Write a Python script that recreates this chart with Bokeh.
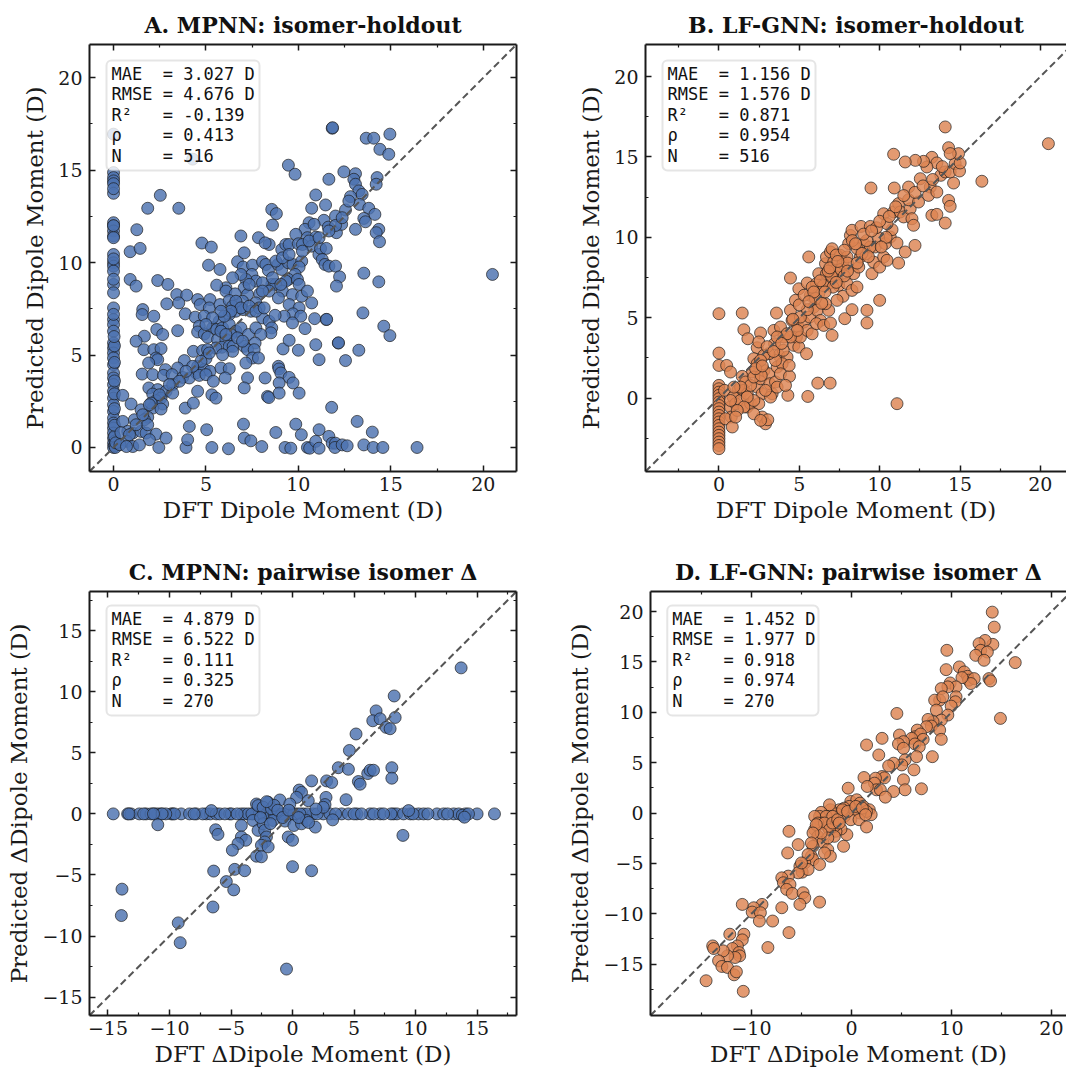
from bokeh.plotting import figure
from bokeh.models import (FixedTicker, LinearAxis, Range1d, BoxAnnotation, Label,
                          CustomJSTickFormatter, CustomLabelingPolicy)
from bokeh.layouts import column, row
from bokeh.embed import file_html
from bokeh.resources import INLINE

# ---------------- data ----------------
titles = ["A. MPNN: isomer-holdout", "B. LF-GNN: isomer-holdout",
          "C. MPNN: pairwise isomer \u0394", "D. LF-GNN: pairwise isomer \u0394"]

stats_A = ["MAE  = 3.027 D", "RMSE = 4.676 D", "R\u00b2   = -0.139", "\u03c1    = 0.413", "N    = 516"]
stats_B = ["MAE  = 1.156 D", "RMSE = 1.576 D", "R\u00b2   = 0.871", "\u03c1    = 0.954", "N    = 516"]
stats_C = ["MAE  = 4.879 D", "RMSE = 6.522 D", "R\u00b2   = 0.111", "\u03c1    = 0.325", "N    = 270"]
stats_D = ["MAE  = 1.452 D", "RMSE = 1.977 D", "R\u00b2   = 0.918", "\u03c1    = 0.974", "N    = 270"]

pts_A = [
    (0, 16.95), (0, 14.87), (0, 14.6), (0, 14.42), (0, 14.27), (0, 13.75), (0, 12.16), (0, 11.98),
    (0, 11.71), (0, 11.44), (0, 11.35), (0, 10.44), (0, 9.99), (0, 9.81), (0, 9.54), (0, 8.82),
    (0, 8.37), (0, 7.55), (0, 6.92), (0, 6.65), (0, 6.29), (0, 5.65), (0, 5.38), (0, 5.11), (0, 4.84),
    (0, 4.48), (0, 4.03), (0, 3.76), (0, 3.4), (0, 3.04), (0, 2.67), (0, 2.31), (0, 1.95), (0, 1.59),
    (0, 1.32), (0, 1.05), (0, 0.78), (0, 0.51), (0, 0.23), (0, 0.0), (0.05, 0.1), (0.08, 0.35),
    (0.05, 0.6), (0.1, 0.0), (0.12, 0.25), (0.05, 1.2), (0.05, 2.1), (0.05, 2.9), (0.05, 3.6),
    (0.05, 4.6), (0.05, 5.5), (0.03, 6.0), (0, 7.2), (0, 9.1), (0, 10.2), (0, 12.0), (0, 14.0),
    (4.28, 15.6),
    (11.83, 17.27), (11.85, 17.3), (13.67, 16.73), (14.08, 16.73), (14.95, 16.95), (14.41, 16.13),
    (14.89, 15.86), (9.46, 15.27), (9.82, 14.78), (11.65, 14.51), (12.46, 14.91), (13.09, 14.81),
    (13.0, 14.51), (13.09, 14.24), (14.26, 14.6), (14.21, 14.24), (13.27, 13.88), (13.45, 13.69),
    (12.82, 13.57), (10.94, 13.66), (2.53, 13.64), (1.85, 12.94), (3.53, 12.94), (8.56, 12.88),
    (8.81, 12.65), (8.6, 12.03), (10.72, 12.94), (11.47, 13.12), (12.55, 12.85), (13.31, 13.15),
    (13.81, 12.94), (14.14, 12.61), (13.54, 12.39), (13.63, 12.21), (12.01, 12.52), (11.38, 12.29),
    (11.62, 11.92), (12.06, 11.62), (12.34, 12.07), (12.01, 12.01), (13.09, 11.8), (14.35, 11.8),
    (14.21, 11.62), (14.39, 11.13), (10.58, 12.16), (10.36, 11.8), (10.85, 12.07), (9.86, 11.53),
    (10.49, 11.35), (10.94, 11.38), (1.26, 11.78), (6.89, 11.44), (7.84, 11.35), (8.42, 10.98),
    (8.2, 11.07), (9.1, 10.71), (9.32, 10.98), (9.5, 10.98), (10.0, 11.02), (10.22, 10.98),
    (10.72, 10.89), (11.11, 10.44), (11.2, 10.77), (11.51, 10.77), (11.29, 10.17), (11.44, 9.9),
    (11.65, 9.81), (12.01, 9.81), (12.23, 9.23), (12.06, 8.73), (13.54, 9.43), (14.35, 8.96),
    (20.5, 9.36), (0.9, 10.59), (1.44, 10.77), (4.78, 11.06), (5.29, 10.84), (5.14, 9.86),
    (5.76, 9.63), (6.71, 10.05), (7.07, 10.53), (7.01, 9.76), (7.52, 9.86), (8.06, 10.05),
    (8.24, 9.9), (7.48, 9.36), (7.7, 9.0), (8.38, 9.58), (8.9, 9.9), (9.1, 9.63), (9.46, 9.99),
    (9.71, 9.9), (10.18, 10.08), (10.04, 9.76), (9.82, 9.36), (9.46, 9.09), (9.32, 9.0),
    (9.95, 9.09), (10.04, 8.82), (8.56, 8.82), (8.78, 8.82), (8.06, 8.91), (7.16, 9.09),
    (7.07, 8.64), (6.08, 8.64), (5.58, 8.78), (6.08, 8.46), (0.9, 9.09), (1.22, 8.73), (2.39, 9.03),
    (2.94, 8.82), (6.58, 8.31), (7.25, 8.27), (7.91, 8.31), (7.7, 7.82), (8.42, 8.46), (9.14, 8.46),
    (8.92, 8.09), (9.68, 8.27), (10.18, 8.18), (10.49, 8.46), (10.72, 7.82), (9.5, 7.73),
    (10.04, 7.55), (9.71, 7.23), (10.13, 7.1), (9.23, 7.1), (9.68, 6.74), (10.36, 6.43),
    (10.88, 6.97), (11.51, 6.92), (11.53, 6.93), (13.49, 7.28), (14.62, 6.56), (14.95, 6.05),
    (12.16, 5.65), (12.17, 5.66), (10.94, 5.56), (10.0, 5.26), (9.17, 5.33), (9.5, 5.8),
    (11.12, 4.75), (12.55, 4.7), (13.27, 5.26),
    (3.42, 8.27), (3.96, 8.24), (2.88, 7.77), (3.53, 7.82), (4.55, 8.0), (5.22, 8.0), (4.69, 7.73),
    (5.18, 7.55), (5.76, 7.73), (6.26, 7.95), (6.44, 7.64), (6.98, 7.91), (6.62, 7.37), (6.26, 7.19),
    (7.01, 7.46), (7.43, 7.37), (7.88, 7.55), (8.06, 7.01), (8.42, 6.83), (8.74, 7.15), (8.56, 6.47),
    (8.51, 6.2), (1.58, 7.46), (1.55, 7.19), (2.18, 7.1), (3.88, 7.23), (4.42, 7.05), (4.91, 7.1),
    (5.72, 6.83), (4.64, 6.56), (5.36, 6.47), (5.58, 6.38), (5.9, 6.47), (6.26, 6.65), (6.62, 6.29),
    (6.35, 6.11), (6.89, 6.47), (7.3, 6.11), (7.7, 6.47), (7.97, 6.11), (7.66, 5.65), (2.34, 6.38),
    (2.66, 6.11), (1.67, 6.02), (1.22, 5.75), (3.47, 6.32), (4.55, 6.25), (4.91, 6.14), (5.09, 5.96),
    (5.63, 5.84), (6.08, 5.84), (5.86, 5.42), (6.26, 5.47), (6.47, 5.47), (5.54, 5.38), (7.07, 5.47),
    (7.25, 5.29), (7.61, 5.29), (7.52, 4.84), (7.84, 4.84), (1.64, 5.29), (2.18, 5.29), (2.57, 5.35),
    (2.3, 4.84), (2.39, 4.75), (1.9, 4.57), (4.32, 5.2), (4.82, 5.24), (5.09, 5.29), (3.83, 4.7),
    (5.0, 4.81), (4.55, 4.39), (4.46, 4.03), (4.91, 4.21), (5.22, 4.12), (5.81, 4.3), (6.26, 4.26),
    (7.16, 4.57), (2.81, 4.21), (3.47, 4.3), (1.55, 3.97), (2.12, 3.94), (2.7, 3.9), (3.17, 3.94),
    (3.74, 3.79), (4.1, 3.76), (4.64, 3.9), (5.0, 3.94), (5.4, 3.58), (6.04, 3.76), (7.25, 3.76),
    (8.2, 3.76), (8.92, 4.39), (8.95, 4.25), (9.05, 4.03), (9.5, 3.79), (8.96, 3.49), (9.71, 3.49),
    (10.04, 2.94), (8.33, 2.76), (8.4, 2.7), (8.96, 2.94), (7.07, 3.22), (1.91, 3.22), (2.39, 3.13),
    (2.12, 2.89), (2.84, 3.04), (3.2, 3.4), (3.2, 2.94), (2.57, 2.67), (2.3, 2.53), (2.66, 2.35),
    (2.12, 2.13), (2.57, 2.08), (2.03, 2.4), (4.55, 3.04), (5.32, 2.85), (5.54, 2.67), (0.5, 2.82),
    (0.95, 2.35), (1.49, 2.04), (1.85, 1.64), (1.67, 1.5), (1.13, 1.5), (0.5, 1.41), (0.77, 0.87),
    (1.04, 0.78), (1.49, 0.87), (1.76, 0.78), (1.85, 1.23), (2.3, 0.72), (2.84, 0.51), (1.94, 0.42),
    (0.72, 0.33), (1.04, 0.05), (1.4, 0.14), (2.45, 0.0), (3.92, 0.0), (4.01, 0.42), (4.1, 1.14),
    (3.88, 2.13), (4.32, 2.4), (5.04, 0.96), (5.32, 0.0), (6.22, -0.07), (7.03, 1.26), (7.07, 0.51),
    (7.43, 0.36), (8.02, 0.05), (8.78, 0.81), (9.28, 0.0), (9.59, -0.04), (9.86, 1.26), (10.16, 0.69),
    (10.49, 0.0), (10.61, -0.04), (11.12, 0.96), (10.94, 0.33), (11.12, -0.04), (11.65, 0.6),
    (11.8, 2.17), (11.83, 0.23), (12.01, 0.23), (11.98, 0.0), (12.37, 0.14), (12.64, 0.09),
    (13.18, 1.41), (13.54, 0.14), (14.0, 0.83), (14.05, 0.0), (14.57, 0.0), (16.42, 0.0),
    (0.35, 0.15), (0.4, 0.8), (0.7, 0.05),
    (6.62, 7.91), (6.89, 7.55), (7.34, 7.64), (7.7, 7.37), (8.15, 7.55), (6.35, 7.37), (5.99, 7.1),
    (5.81, 7.37), (5.36, 7.01), (5.0, 6.65), (5.81, 6.29), (6.08, 6.11), (6.71, 5.93), (6.98, 5.75),
    (6.44, 5.2), (5.9, 5.02), (5.18, 5.11), (4.73, 4.66), (4.28, 4.39), (3.92, 4.12), (3.56, 3.58),
    (3.02, 3.4), (2.48, 2.85), (1.94, 2.31), (1.58, 1.77), (1.22, 1.23), (0.86, 0.69), (8.78, 10.08),
    (9.14, 10.26), (9.5, 10.44), (10.22, 10.62), (10.58, 11.17), (11.12, 11.35), (11.65, 11.71),
    (12.37, 12.43), (12.73, 13.33), (8.6, 9.18), (9.05, 8.82), (8.06, 8.46), (7.34, 8.82),
    (6.89, 9.36), (6.44, 9.18),
]

pts_B = [
    (0, 0.79), (0, 0.58), (0, 0.37), (0, 0.17), (0, -0.04), (0, -0.25), (0, -0.46), (0, -0.66),
    (0, -0.87), (0, -1.08), (0, -1.29), (0, -1.49), (0, -1.7), (0, -1.91), (0, -2.12), (0, -2.32),
    (0, -2.53), (0, -2.74), (0, -2.95), (0, -3.15), (0, 5.25), (0, 2.8), (0, 2.03), (0.48, 2.03),
    (0.72, 1.62), (0.35, 0.48),
    (1.45, 5.29), (1.55, 4.25), (1.8, 3.69), (2.38, 3.13), (2.59, 4.05), (2.48, 3.49), (2.17, 2.45),
    (2.38, 2.14), (2.07, 1.62), (1.45, 1.35), (1.66, 1.0), (1.18, 0.48), (0.89, 0.06), (0.72, -0.56),
    (0.77, -1.18), (0.41, -1.29), (0.83, -1.8), (1.04, -0.35), (1.35, -0.15), (1.55, 0.48),
    (1.76, 0.27), (1.76, -0.56), (1.97, -0.35), (2.38, 0.68), (2.59, 1.2), (2.69, 0.27),
    (2.69, -1.18), (2.9, -1.6), (3.04, -1.35), (2.48, -0.35), (2.17, -0.15), (1.97, 0.79),
    (2.8, 1.72), (3.1, 1.51), (3.31, 0.27), (3.17, 0.89), (3.52, 1.0), (3.62, 1.93), (3.73, 2.66),
    (3.46, 3.38), (3.42, 4.21), (3.58, 5.29), (3.83, 4.42), (4.04, 3.8), (4.24, 2.55), (3.93, 2.14),
    (3.83, 1.51), (4.29, 0.17), (4.39, 1.35), (4.37, 2.03), (4.66, 3.28), (4.82, 3.8), (4.97, 3.17),
    (5.45, 2.76), (5.53, 0.1), (6.15, 0.93), (6.92, 0.93), (11.08, -0.35), (4.45, 5.46),
    (4.45, 7.47), (4.55, 4.83), (4.91, 4.46), (5.07, 3.8), (5.28, 4.73), (5.49, 4.21), (5.65, 5.04),
    (5.8, 4.0), (4.76, 6.08), (4.97, 6.8), (5.49, 7.16), (5.59, 8.78), (5.69, 6.39), (5.9, 5.66),
    (6.11, 5.46), (6.32, 4.83), (6.07, 4.63), (6.52, 4.52), (7.04, 3.9), (6.94, 4.67), (6.83, 5.46),
    (6.63, 5.87), (6.21, 6.49), (6.07, 7.12), (6.21, 7.74), (6.63, 8.36), (6.69, 8.78), (6.94, 9.09),
    (7.04, 9.29), (7.14, 8.46), (7.25, 7.95), (7.35, 7.53), (7.45, 7.01), (7.72, 6.33), (7.83, 4.94),
    (8.28, 5.5), (7.35, 6.08), (6.83, 7.12), (6.69, 7.74), (7.56, 8.88), (7.72, 8.36), (7.97, 8.78),
    (8.07, 9.61), (8.18, 10.12), (8.28, 10.44), (7.97, 7.12), (8.28, 6.7), (8.59, 6.91), (8.39, 7.74),
    (8.7, 8.15), (8.8, 8.78), (8.84, 10.68), (9.01, 9.61), (9.17, 8.98), (9.42, 10.68), (9.21, 5.46),
    (9.21, 4.67), (9.52, 7.74), (9.63, 8.46), (9.73, 9.4), (9.94, 9.96), (10.0, 8.15), (10.0, 6.08),
    (10.25, 8.78), (10.35, 9.61), (10.46, 8.57), (10.66, 10.02), (10.77, 10.48), (11.08, 9.65),
    (11.18, 8.4), (11.59, 9.09), (12.2, 9.5), (10.25, 11.47), (10.46, 10.85), (10.87, 11.58),
    (11.18, 12.1), (11.28, 11.58), (11.49, 11.27), (11.9, 11.78), (12.01, 11.16), (12.11, 10.75),
    (11.8, 12.34), (12.42, 12.2), (12.53, 13.65), (13.15, 13.13), (13.04, 12.61), (13.56, 12.82),
    (13.25, 11.37), (13.56, 11.43), (14.08, 10.89), (14.29, 12.3), (14.39, 11.93), (14.6, 13.38),
    (13.81, 13.86), (14.08, 14.07), (14.39, 14.07), (14.7, 14.59), (14.97, 14.13), (15.01, 14.63),
    (14.91, 15.21), (14.29, 15.58), (14.39, 15.21), (14.08, 16.87), (13.25, 14.98), (13.56, 14.63),
    (12.94, 14.38), (12.73, 14.73), (12.22, 14.79), (11.59, 14.69), (10.87, 15.17), (9.46, 13.07),
    (10.91, 13.07), (11.8, 13.13), (20.5, 15.83), (16.36, 13.49), (9.42, 9.4),
    (2.17, 1.31), (2.63, 1.41), (1.76, 0.06), (1.35, 0.68), (1.55, -0.56), (2.17, -0.98),
    (2.59, -1.39), (1.14, -0.77), (1.04, -1.18), (0.72, -0.15), (0.93, 0.68), (3.21, 0.06),
    (3.62, 0.68), (2.9, 0.48), (3.52, 2.34), (4.0, 2.97), (4.45, 3.8), (4.87, 4.21), (5.07, 5.04),
    (4.24, 4.0), (3.62, 3.8), (3.11, 2.76), (2.8, 2.66), (2.59, 2.34), (2.28, 1.83), (4.14, 0.79),
    (6.5, 7.0), (7.0, 7.6), (7.6, 8.0), (8.0, 8.4), (7.3, 8.9), (6.8, 7.9), (8.6, 9.3), (9.2, 9.8),
    (7.8, 7.6), (6.0, 6.2), (5.5, 5.5), (6.4, 5.9), (9.8, 10.6), (10.4, 10.0), (8.9, 9.0),
    (7.1, 6.9), (5.8, 6.9), (8.3, 9.8),
    (5.0, 5.8), (5.3, 6.4), (5.9, 6.6), (6.3, 7.3), (6.9, 8.1), (7.4, 8.5), (7.8, 9.2), (8.5, 9.6),
    (9.0, 10.2), (9.5, 10.4), (10.0, 11.0), (10.6, 11.3), (11.0, 11.9), (11.5, 12.6), (12.2, 12.8),
    (12.7, 13.2), (13.3, 13.6), (13.9, 14.4), (3.0, 3.2), (3.4, 2.9), (2.7, 2.0), (4.6, 4.9),
    (3.9, 3.4), (5.6, 6.0), (6.6, 6.6), (7.3, 7.2), (8.0, 7.9), (8.6, 8.4), (9.3, 8.8), (10.1, 9.4),
]

pts_C = [
    (-14.57, 0), (-13.4, 0), (-13.13, 0), (-12.45, 0), (-11.9, 0), (-11.22, 0), (-10.95, 0),
    (-10.68, 0), (-9.86, 0), (-9.73, 0), (-9.05, 0), (-8.37, 0), (-7.83, 0), (-7.01, 0), (-6.68, 0),
    (-6.2, 0), (-5.92, 0), (-5.11, 0), (-4.97, 0), (-4.16, 0), (-3.89, 0), (-3.21, 0), (-2.93, 0),
    (-2.39, 0), (-1.85, 0), (-1.3, 0), (-0.76, 0), (-0.22, 0), (0.33, 0), (0.87, 0), (1.68, 0),
    (2.5, 0), (3.04, 0), (3.99, 0), (4.54, 0), (5.22, 0), (6.3, 0), (7.12, 0), (8.21, 0), (8.48, 0),
    (9.02, 0), (9.57, 0), (10.24, 0), (10.65, 0), (11.74, 0), (12.28, 0), (13.1, 0), (13.51, 0),
    (14.05, 0), (15.0, 0), (16.41, 0),
    (-0.5, 0), (0.1, 0), (-1.0, 0), (1.2, 0), (2.0, 0), (-2.0, 0), (-3.6, 0), (-4.5, 0), (-5.5, 0),
    (-9.6, 0), (-11.5, 0), (-12.1, 0), (-13.3, 0), (-10.3, 0), (8.0, 0), (9.8, 0), (11.0, 0),
    (12.6, 0), (13.8, -0.1), (14.3, 0), (5.0, 0), (5.6, 0), (3.5, 0), (6.6, 0), (7.4, 0), (-7.3, 0),
    (-8.0, 0), (-10.6, 0), (-11.3, 0), (-1.5, 0), (0.6, 0), (-2.7, 0), (-3.3, 0),
    (13.7, 11.95), (8.26, 9.65), (6.79, 8.43), (6.52, 7.62), (7.12, 7.78), (7.61, 7.08), (7.93, 6.97),
    (8.34, 7.89), (5.16, 6.54), (4.62, 5.19), (3.72, 3.78), (4.54, 3.65), (6.11, 3.3), (6.3, 3.57),
    (6.58, 3.57), (8.07, 3.78), (8.07, 2.92), (5.35, 2.65), (5.49, 2.43), (1.55, 2.7), (2.77, 2.7),
    (3.18, 2.57), (0.54, 1.95), (0.73, 1.76), (0.33, 1.35), (1.28, 1.08), (2.72, 1.35), (2.64, 0.76),
    (4.35, 1.16), (-1.03, 1.14), (-0.22, 0.81), (-1.98, 0.95), (-2.93, 0.81), (-2.8, 0.68),
    (-2.39, 0.54), (-1.71, 0.41), (-6.6, 0.27), (-10.95, -0.89), (-6.25, -1.3), (-6.06, -1.68),
    (-4.16, -0.95), (-4.16, -1.89), (-3.8, -2.16), (-4.43, -2.43), (-4.89, -2.97), (-3.21, -0.54),
    (-2.8, -1.35), (-2.39, -0.81), (-2.26, -1.35), (-2.12, -1.89), (-2.26, -2.3), (-2.53, -2.57),
    (-1.98, -2.7), (-2.93, -3.46), (-2.53, -3.51), (-1.58, -0.54), (-0.62, -0.59), (0.11, -0.95),
    (0.73, -0.81), (1.14, -0.54), (1.85, -1.08), (3.26, -0.49), (-0.35, -1.89), (0.0, -2.16),
    (0.0, -4.32), (1.55, -4.65), (8.97, -1.76), (-6.41, -4.68), (-4.7, -4.54), (-3.89, -4.65),
    (-5.38, -5.54), (-4.78, -6.22), (-6.47, -7.62), (-13.86, -6.16), (-13.91, -8.32), (-9.29, -8.92),
    (-9.13, -10.54), (-0.49, -12.7), (9.43, 0.27), (13.97, -0.27), (2.5, 0.54),
    (-1.5, 0.7), (-2.1, 1.0), (-1.2, 0.3), (0.5, -0.3), (-0.8, -0.3), (-1.8, -0.8), (1.3, -0.7),
    (-2.6, -0.3), (1.9, 0.4), (-0.3, 0.3),
]

pts_D = [
    (14.08, 19.95), (14.28, 18.46), (14.14, 16.75), (13.36, 17.14), (12.76, 16.82), (12.93, 16.16),
    (13.59, 15.99), (12.43, 15.66), (13.26, 15.17), (16.38, 14.94), (9.54, 16.16), (9.47, 14.24),
    (10.79, 14.51), (11.28, 14.01), (11.61, 13.58), (11.71, 13.19), (12.27, 13.35), (11.94, 12.86),
    (11.05, 13.45), (13.75, 13.35), (13.91, 13.12), (14.9, 9.4), (9.87, 12.92), (10.46, 12.53),
    (9.64, 12.53), (8.98, 12.36), (8.82, 11.21), (8.32, 11.21), (9.14, 11.54), (10.46, 11.54),
    (10.39, 11.05), (9.97, 10.62), (9.64, 9.73), (8.49, 10.22), (4.54, 9.89), (8.98, 9.23),
    (8.16, 9.07), (7.66, 9.3), (7.99, 8.64), (7.5, 8.57), (8.82, 8.24), (8.98, 7.32), (6.58, 8.24),
    (6.35, 7.58), (6.91, 7.85), (7.17, 7.32), (6.02, 7.42), (6.35, 6.86), (6.78, 6.59), (4.8, 7.75),
    (5.2, 7.09), (4.7, 6.86), (5.2, 6.43), (3.06, 7.42), (1.51, 6.76), (8.09, 5.6), (6.51, 5.6),
    (5.36, 5.28), (5.03, 4.78), (4.21, 4.95), (3.72, 4.68), (2.73, 5.77), (6.25, 4.29), (5.2, 3.3),
    (5.36, 2.31), (4.21, 2.14), (7.0, 2.41), (3.06, 3.63), (3.3, 3.5), (2.4, 3.46), (2.3, 2.97),
    (2.5, 2.31), (2.89, 2.31), (3.39, 1.58), (1.25, 3.53), (1.58, 2.64), (-0.33, 2.47), (-0.07, 1.15),
    (0.53, 1.32), (0.86, 0.99), (1.18, 0.66), (1.78, 0.33), (1.97, -0.16), (1.5, 0.16), (0.86, 0.0),
    (0.26, 0.33), (-0.23, 0.66), (-0.72, 0.49), (-1.22, 0.33), (-1.45, -0.07), (-2.11, 0.33),
    (-2.2, 0.82), (-3.03, 0.07), (-3.19, -0.33), (-2.53, -0.33), (-1.88, -0.33), (-0.72, -0.33),
    (-0.07, -0.66), (0.76, -0.66), (1.51, -1.38), (-0.46, -2.14), (-1.05, -1.58), (-1.55, -1.81),
    (-1.71, -1.32), (-2.37, -1.38), (-3.03, -0.99), (-3.68, -1.65), (-3.36, -2.31), (-2.86, -2.9),
    (-2.37, -3.63), (-2.11, -4.29), (-2.7, -3.96), (-0.79, -3.3), (-3.85, -3.3), (-4.01, -4.29),
    (-3.85, -4.62), (-3.19, -5.11), (-4.67, -4.95), (-5.16, -5.28), (-4.93, -5.87), (-4.34, -5.6),
    (-5.33, -5.93), (-6.25, -1.81), (-5.33, -3.13), (-6.38, -3.96), (-6.32, -6.26), (-6.97, -6.43),
    (-6.81, -6.92), (-6.15, -7.09), (-6.48, -7.58), (-5.92, -7.98), (-4.84, -7.91), (-4.67, -8.41),
    (-5.16, -9.07), (-3.19, -8.84), (-6.97, -9.4), (-6.25, -11.87), (-7.89, -10.72), (-8.95, -9.07),
    (-9.77, -9.4), (-9.93, -9.83), (-9.11, -9.89), (-9.21, -10.72), (-10.92, -9.07), (-8.36, -13.35),
    (-12.17, -12.03), (-10.76, -12.03), (-10.92, -12.59), (-11.41, -13.19), (-11.91, -13.45),
    (-11.25, -13.85), (-11.18, -14.18), (-11.64, -14.34), (-12.4, -14.18), (-12.83, -13.68),
    (-13.88, -13.19), (-13.78, -13.45), (-13.29, -14.67), (-12.96, -15.23), (-12.4, -15.33),
    (-11.74, -16.06), (-11.51, -15.76), (-14.54, -16.65), (-10.82, -17.7),
    (-3.68, -0.33), (-3.36, -0.99), (-2.7, -0.99), (-2.2, -1.65), (-1.88, -0.99), (-1.38, -0.66),
    (-0.89, 0.33), (-0.39, 0.16), (0.43, 0.66), (1.09, 0.49), (1.41, -0.16), (-1.22, -0.99),
    (-1.71, -2.31), (-2.37, -2.47), (-3.03, -1.98), (-3.52, -1.15), (-3.85, -1.98), (-4.01, -2.97),
    (-4.34, -4.12), (-5.0, -4.95),
]

xlabels = ["DFT Dipole Moment (D)", "DFT Dipole Moment (D)",
           "DFT \u0394Dipole Moment (D)", "DFT \u0394Dipole Moment (D)"]
ylabels = ["Predicted Dipole Moment (D)", "Predicted Dipole Moment (D)",
           "Predicted \u0394Dipole Moment (D)", "Predicted \u0394Dipole Moment (D)"]

ticks_AB = [0, 5, 10, 15, 20]
minor_AB = [-2.5, 2.5, 7.5, 12.5, 17.5]
ticks_C = [-15, -10, -5, 0, 5, 10, 15]
minor_C = [-12.5, -7.5, -2.5, 2.5, 7.5, 12.5, 17.5]
ticks_Dx = [-10, 0, 10, 20]
minor_Dx = [-15, -5, 5, 15]
ticks_Dy = [-15, -10, -5, 0, 5, 10, 15, 20]
minor_Dy = [-17.5, -12.5, -7.5, -2.5, 2.5, 7.5, 12.5, 17.5]

BLUE = "#4C72B0"
ORANGE = "#DD8452"

SERIF = "DejaVu Serif"
MONO = "DejaVu Sans Mono"

fmt_code = "return (tick < 0 ? '\u2212' : '') + Math.abs(tick).toString();"


def make_axis(ticks, minor, show_labels, label="", vertical=False):
    ax = LinearAxis(ticker=FixedTicker(ticks=ticks, minor_ticks=minor),
                    formatter=CustomJSTickFormatter(code=fmt_code))
    if label:
        ax.axis_label = label
    ax.major_tick_in = 6
    ax.major_tick_out = 0
    ax.minor_tick_in = 3
    ax.minor_tick_out = 0
    ax.axis_line_width = 2
    ax.axis_line_color = "#1a1a1a"
    ax.major_tick_line_width = 1.5
    ax.major_tick_line_color = "#1a1a1a"
    ax.minor_tick_line_width = 1.2
    ax.minor_tick_line_color = "#1a1a1a"
    ax.major_label_text_font = SERIF
    ax.major_label_text_font_size = "19px"
    ax.major_label_text_color = "#1a1a1a"
    ax.major_label_standoff = 7 if vertical else 5
    ax.axis_label_text_font = SERIF
    ax.axis_label_text_font_size = "23px"
    ax.axis_label_text_font_style = "normal"
    ax.axis_label_text_color = "#1a1a1a"
    ax.axis_label_standoff = 7 if vertical else 3
    if not show_labels:
        ax.major_label_text_font_size = "0px"
        ax.major_label_standoff = 0
        ax.major_label_policy = CustomLabelingPolicy(code="return [];")
    return ax


def make_panel(title, pts, color, xr, yr, fw, fh, l, r, t, b, xt, xm, yt, ym,
               xlabel, ylabel, stats, box_top, right_axis):
    p = figure(width=l + fw + r, height=t + fh + b,
               x_range=Range1d(*xr), y_range=Range1d(*yr),
               x_axis_location=None, y_axis_location=None,
               output_backend="svg", toolbar_location=None,
               min_border_left=l, min_border_right=r, min_border_top=t, min_border_bottom=b)
    p.grid.visible = False
    p.outline_line_color = None
    p.background_fill_color = "white"
    p.border_fill_color = "white"

    p.title.text = title
    p.title.align = "center"
    p.title.text_font = SERIF
    p.title.text_font_style = "bold"
    p.title.text_font_size = "22px"
    p.title.text_color = "#111111"
    p.title.standoff = 13

    p.add_layout(make_axis(xt, xm, True, xlabel), "below")
    p.add_layout(make_axis(yt, ym, True, ylabel, vertical=True), "left")
    p.add_layout(make_axis(xt, xm, False), "above")
    if right_axis:
        p.add_layout(make_axis(yt, ym, False, vertical=True), "right")

    xs = [q[0] for q in pts]
    ys = [q[1] for q in pts]
    p.scatter(xs, ys, size=12, fill_color=color, fill_alpha=0.82,
              line_color="#1a1a1a", line_alpha=0.75, line_width=0.9)

    lo = min(xr[0], yr[0])
    hi = max(xr[1], yr[1])
    p.line([lo, hi], [lo, hi], line_color="#555555", line_width=2, line_dash="7 4")

    sx = (xr[1] - xr[0]) / fw
    sy = (yr[1] - yr[0]) / fh

    def X(px):
        return xr[0] + px * sx

    def Y(py):
        return yr[1] - py * sy

    box = BoxAnnotation(left=X(17), right=X(170), top=Y(box_top), bottom=Y(box_top + 110),
                        fill_color="white", fill_alpha=0.8, line_color="#aaaaaa",
                        line_width=2, border_radius=5, level="overlay")
    p.add_layout(box)
    for i, s in enumerate(stats):
        p.add_layout(Label(x=X(22), y=Y(box_top + 13.5 + i * 20.4), text=s.replace(" ", "\u00a0"),
                           text_font=MONO, text_font_size="17px", text_color="#111111",
                           text_baseline="middle", text_align="left", level="overlay"))
    return p


# layout sizes (pixels)
FW_L, FW_R = 427, 421
FH_T, FH_B = 427, 424

lim_A = (-1.3, 21.8)
lim_B_y = (-4.57, 22.0)
lim_B_x = (-4.57, -4.57 + FW_R * (26.57 / 427))
lim_C = (-16.5, 18.2)
lim_D_y = (-20.1, 22.0)
lim_D_x = (-20.1, -20.1 + FW_R * (42.1 / 426))

pA = make_panel(titles[0], pts_A, BLUE, lim_A, lim_A, FW_L, FH_T, 89, 48, 44, 62,
                ticks_AB, minor_AB, ticks_AB, minor_AB, xlabels[0], ylabels[0], stats_A, 16, True)
pB = make_panel(titles[1], pts_B, ORANGE, lim_B_x, lim_B_y, FW_R, FH_T, 81, 0, 44, 62,
                ticks_AB, minor_AB, ticks_AB, minor_AB, xlabels[1], ylabels[1], stats_B, 16, False)
pC = make_panel(titles[2], pts_C, BLUE, lim_C, lim_C, FW_L, FH_B, 89, 48, 58, 57,
                ticks_C, minor_C, ticks_C, minor_C, xlabels[2], ylabels[2], stats_C, 14, True)
pD = make_panel(titles[3], pts_D, ORANGE, lim_D_x, lim_D_y, FW_R, FH_B, 81, 0, 58, 57,
                ticks_Dx, minor_Dx, ticks_Dy, minor_Dy, xlabels[3], ylabels[3], stats_D, 14, False)

layout = column(row(pA, pB), row(pC, pD))

with open("out.html", "w") as f:
    f.write(file_html(layout, INLINE, title="Dipole moment parity plots"))
